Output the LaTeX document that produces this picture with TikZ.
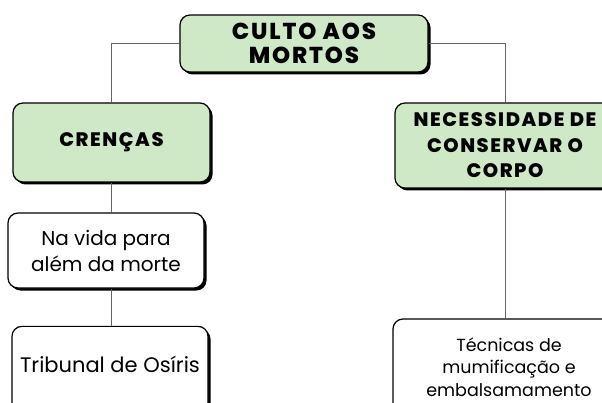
\documentclass[tikz,border=0pt]{standalone}
\usepackage{fontspec}
\setmainfont{Poppins}
\newfontfamily\headfont[LetterSpace=8]{Poppins ExtraBold}
\usetikzlibrary{shadows}
\definecolor{boxgreen}{RGB}{207,232,198}
\definecolor{linegray}{RGB}{100,100,100}
\tikzset{
  box/.style={draw=black, line width=1.2pt, rounded corners=10pt, align=center, inner sep=0pt,
    drop shadow={shadow xshift=2.5pt, shadow yshift=-2.5pt, opacity=1, fill=black}},
  headbox/.style={box, fill=boxgreen, font=\headfont\fontsize{19.5}{25.5}\selectfont},
  leafbox/.style={box, fill=white, font=\fontsize{20}{26}\selectfont},
  link/.style={draw=linegray, line width=0.9pt},
}
\begin{document}
\begin{tikzpicture}[x=1pt,y=-1pt]
\useasboundingbox (0,0) rectangle (602,403);
\fill[white] (0,0) rectangle (602,403);
\clip (0,0) rectangle (602,403);
\node[headbox, minimum width=248pt, minimum height=57pt, font=\headfont\fontsize{23}{23.5}\selectfont] (top) at (304,43.5) {CULTO AOS\\MORTOS};
\node[headbox, minimum width=197pt, minimum height=79pt] (cren) at (111.5,142.5) {CRENÇAS};
\node[headbox, minimum width=220pt, minimum height=85pt] (nec) at (505,145.5) {NECESSIDADE DE\\CONSERVAR O\\CORPO};
\node[leafbox, minimum width=196pt, minimum height=75pt] (vida) at (106,250.5) {Na vida para\\além da morte};
\node[leafbox, minimum width=196pt, text height=45.7pt, text depth=47pt, font=\fontsize{21}{26}\selectfont] (trib) at (110,372.7) {Tribunal de Osíris};
\node[leafbox, minimum width=232pt, minimum height=96pt, font=\fontsize{17.5}{22.5}\selectfont] (tec) at (509,367) {Técnicas de\\mumificação e\\embalsamamento};
\draw[link] (top.west) -| (cren.north);
\draw[link] (top.east) -| (nec.north);
\draw[link] (cren.south) -- (cren.south |- vida.north);
\draw[link] (cren.south |- vida.south) -- (cren.south |- trib.north);
\draw[link] (nec.south) -- (nec.south |- tec.north);
\end{tikzpicture}
\end{document}
